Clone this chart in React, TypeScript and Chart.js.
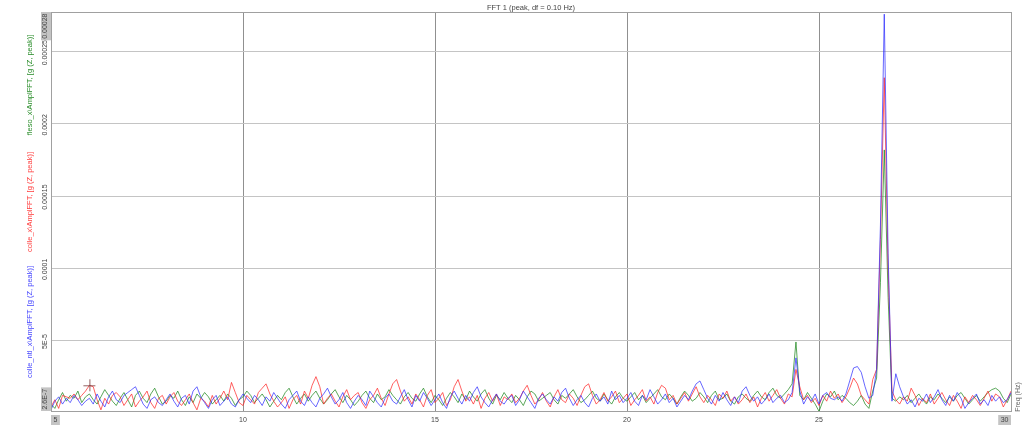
import React, { useEffect, useRef } from 'react';
import { Chart, registerables } from 'chart.js';
Chart.register(...registerables);

// Frequency grid: 5.0 .. 30.0 Hz, df = 0.10 Hz
const FREQ_START = 5;
const FREQ_STEP = 0.1;

// Amplitudes in micro-g (1e-6 g), one value per 0.1 Hz bin
const colleUg: number[] = [
  4, 9, 3, 12, 11, 10, 13, 9, 12, 15,
  19, 18, 9, 2, 10, 6, 12, 14, 11, 5,
  9, 13, 4, 8, 11, 15, 7, 3, 10, 12,
  6, 11, 14, 8, 5, 9, 13, 7, 2, 10,
  8, 4, 12, 6, 10, 15, 9, 21, 14, 7,
  5, 12, 9, 6, 14, 17, 20, 13, 8, 4,
  7, 11, 3, 9, 12, 6, 15, 10, 19, 25,
  18, 6, 10, 13, 8, 4, 11, 16, 9, 12,
  14, 7, 3, 9, 12, 17, 10, 5, 13, 20,
  23, 15, 8, 11, 6, 13, 9, 4, 12, 16,
  7, 10, 14, 5, 9, 18, 23, 15, 8, 11,
  6, 12, 3, 10, 14, 8, 13, 5, 11, 9,
  13, 7, 10, 15, 19, 12, 6, 9, 14, 8,
  4, 11, 16, 9, 7, 13, 10, 5, 12, 18,
  20, 12, 6, 9, 14, 8, 11, 15, 7, 10,
  13, 5, 9, 12, 16, 8, 11, 6, 14, 19,
  17, 9, 12, 6, 10, 14, 8, 13, 18, 11,
  7, 12, 9, 5, 13, 10, 15, 8, 11, 6,
  9, 13, 7, 11, 4, 10, 14, 8, 12, 16,
  10, 6, 13, 11, 30, 18, 9, 12, 7, 10,
  5, 12, 8, 15, 10, 13, 7, 11, 17, 24,
  20, 12, 9, 6, 23, 30, 120, 232, 100, 15,
  9, 6, 11, 8, 17, 12, 5, 10, 7, 13,
  6, 10, 14, 9, 5, 12, 8, 3, 11, 7,
  12, 9, 5, 10, 15, 8, 13, 11, 4, 9,
  15,
];

const colleNtlUg: number[] = [
  2, 8, 11, 6, 10, 7, 12, 9, 5, 8,
  10, 6, 13, 8, 4, 11, 15, 9, 7, 12,
  14, 16, 18, 12, 6, 3, 9, 11, 7, 5,
  9, 13, 8, 4, 10, 12, 6, 15, 18, 11,
  7, 3, 9, 12, 5, 8, 11, 6, 4, 9,
  13, 10, 7, 12, 9, 5, 11, 8, 14, 10,
  6, 3, 9, 12, 15, 8, 5, 11, 7, 4,
  10, 13, 17, 11, 6, 9, 14, 7, 3, 8,
  12, 9, 5, 15, 11, 7, 4, 10, 13, 8,
  6, 11, 16, 9, 4, 12, 8, 14, 10, 5,
  9, 13, 7, 3, 11, 15, 10, 6, 12, 8,
  14, 18, 11, 7, 4, 9, 13, 8, 6, 10,
  12, 5, 9, 15, 11, 7, 3, 10, 13, 9,
  6, 11, 8, 14, 17, 10, 5, 9, 12, 7,
  4, 10, 13, 8, 11, 6, 15, 9, 12, 7,
  10, 14, 8, 5, 12, 9, 16, 11, 6, 9,
  13, 7, 10, 4, 8, 12, 9, 15, 20, 22,
  16, 10, 6, 12, 8, 14, 9, 5, 11, 7,
  15, 18, 12, 8, 11, 6, 9, 13, 7, 10,
  12, 7, 9, 14, 38, 15, 6, 11, 8, 13,
  6, 12, 14, 10, 9, 11, 8, 13, 22, 31,
  32, 28, 18, 10, 12, 30, 130, 276, 110, 8,
  27, 18, 11, 6, 9, 4, 10, 8, 13, 7,
  11, 16, 9, 5, 12, 8, 14, 10, 3, 7,
  10, 13, 6, 9, 5, 12, 8, 11, 7, 9,
  14,
];

const flesoUg: number[] = [
  6, 3, 9, 14, 8, 12, 10, 15, 7, 11,
  13, 9, 6, 11, 16, 12, 8, 5, 10, 14,
  9, 4, 12, 15, 10, 7, 13, 17, 11, 6,
  8, 12, 10, 15, 9, 5, 11, 7, 13, 10,
  14, 11, 6, 9, 12, 8, 13, 10, 5, 9,
  11, 15, 12, 7, 10, 13, 9, 4, 8, 12,
  9, 14, 17, 11, 6, 10, 13, 8, 12, 15,
  10, 6, 9, 13, 16, 11, 7, 12, 9, 5,
  8, 12, 15, 10, 7, 13, 9, 11, 16, 12,
  9, 6, 11, 14, 10, 8, 13, 17, 11, 7,
  12, 9, 5, 10, 14, 11, 7, 13, 9, 15,
  11, 8, 13, 16, 10, 6, 12, 9, 14, 10,
  7, 12, 9, 5, 11, 15, 13, 8, 10, 12,
  14, 9, 6, 12, 10, 13, 16, 11, 7, 9,
  12, 15, 10, 8, 13, 9, 6, 11, 14, 10,
  8, 11, 14, 9, 12, 7, 10, 13, 16, 11,
  9, 13, 10, 6, 11, 15, 12, 8, 10, 14,
  11, 7, 12, 15, 9, 10, 13, 8, 6, 11,
  13, 10, 8, 12, 15, 11, 9, 14, 17, 12,
  10, 13, 16, 20, 49, 12, 9, 14, 10, 6,
  1, 8, 13, 11, 15, 9, 12, 10, 7, 5,
  8, 12, 6, 3, 15, 24, 90, 182, 80, 10,
  8, 11, 9, 12, 7, 10, 13, 9, 6, 11,
  9, 13, 10, 7, 11, 8, 12, 14, 10, 6,
  9, 12, 8, 11, 14, 16, 17, 15, 10, 7,
  13,
];

const X_TICKS = [5, 10, 15, 20, 25, 30];
const X_TICK_LABELS = ['5', '10', '15', '20', '25', '30'];
const Y_MIN = 1.2e-6;
const Y_MAX = 0.0002775;
const Y_TICKS = [5e-5, 1e-4, 1.5e-4, 2e-4, 2.5e-4];
const Y_TICK_LABELS = ['5E-5', '0.0001', '0.00015', '0.0002', '0.00025'];
const Y_MIN_LABEL = '2.6E-7';
const Y_MAX_LABEL = '0.00028';
const TITLE = 'FFT 1 (peak, df = 0.10 Hz)';
const X_TITLE = 'Freq (Hz)';
const Y_TITLES = [
  { text: 'fleso_x\\AmplFFT, [g (Z, peak)]', color: 'rgb(40,140,40)' },
  { text: 'colle_x\\AmplFFT, [g (Z, peak)]', color: 'rgb(255,60,60)' },
  { text: 'colle_ntl_x\\AmplFFT, [g (Z, peak)]', color: 'rgb(70,70,255)' },
];
const CURSOR_FREQ = 6.0;
const CURSOR_INDEX = 10;

const FONT = '"Liberation Sans", Arial, sans-serif';

const toPoints = (arr: number[]) =>
  arr.map((v, i) => ({ x: FREQ_START + i * FREQ_STEP, y: v * 1e-6 }));

const overlayPlugin = {
  id: 'overlay',
  afterDraw(chart: any) {
    const { ctx, chartArea: a, scales } = chart;
    const xs = scales.x;
    const ys = scales.y;
    ctx.save();
    // plot frame
    ctx.strokeStyle = '#a0a0a0';
    ctx.lineWidth = 1;
    ctx.strokeRect(Math.round(a.left) + 0.5, Math.round(a.top) + 0.5, Math.round(a.right - a.left), Math.round(a.bottom - a.top));

    ctx.font = `7.5px ${FONT}`;
    ctx.fillStyle = '#444';
    // title
    ctx.textAlign = 'center';
    ctx.textBaseline = 'middle';
    ctx.fillText(TITLE, (a.left + a.right) / 2, a.top - 4);

    ctx.font = `7px ${FONT}`;
    // x tick labels
    X_TICKS.forEach((v, i) => {
      const px = xs.getPixelForValue(v);
      const label = X_TICK_LABELS[i];
      const w = ctx.measureText(label).width;
      const ty = a.bottom + 9;
      if (i === 0) {
        ctx.fillStyle = '#c4c4c4';
        ctx.fillRect(a.left, a.bottom + 4, w + 5, 10);
        ctx.fillStyle = '#444';
        ctx.textAlign = 'left';
        ctx.fillText(label, a.left + 2.5, ty);
      } else if (i === X_TICKS.length - 1) {
        ctx.fillStyle = '#c4c4c4';
        ctx.fillRect(a.right - w - 5, a.bottom + 4, w + 5, 10);
        ctx.fillStyle = '#444';
        ctx.textAlign = 'right';
        ctx.fillText(label, a.right - 2.5, ty);
      } else {
        ctx.fillStyle = '#444';
        ctx.textAlign = 'center';
        ctx.fillText(label, px, ty);
      }
    });

    // y tick labels (rotated)
    const lx = a.left - 5.5;
    const drawRot = (text: string, x: number, y: number, align: CanvasTextAlign, color: string) => {
      ctx.save();
      ctx.translate(x, y);
      ctx.rotate(-Math.PI / 2);
      ctx.textAlign = align;
      ctx.textBaseline = 'middle';
      ctx.fillStyle = color;
      ctx.fillText(text, 0, 0);
      ctx.restore();
    };
    Y_TICKS.forEach((v, i) => {
      const py = ys.getPixelForValue(v);
      drawRot(Y_TICK_LABELS[i], lx, py + 1, 'center', '#444');
    });
    // min / max boxed labels
    const wMin = ctx.measureText(Y_MIN_LABEL).width;
    ctx.fillStyle = '#c4c4c4';
    ctx.fillRect(a.left - 10, a.bottom - wMin - 3, 10, wMin + 3);
    drawRot(Y_MIN_LABEL, lx, a.bottom - 1.5, 'left', '#444');
    const wMax = ctx.measureText(Y_MAX_LABEL).width;
    ctx.fillStyle = '#c4c4c4';
    ctx.fillRect(a.left - 10, a.top, 10, wMax + 3);
    drawRot(Y_MAX_LABEL, lx, a.top + 1.5, 'right', '#444');

    // x axis title (rotated, right side)
    drawRot(X_TITLE, a.right + 7, a.bottom - 14, 'center', '#666');

    // y axis titles (rotated, coloured)
    ctx.font = `7.5px ${FONT}`;
    const centers = [85, 202, 322];
    Y_TITLES.forEach((t, i) => {
      drawRot(t.text, 30, centers[i], 'center', t.color);
    });

    // cursor cross
    const cx = xs.getPixelForValue(CURSOR_FREQ);
    const cy = ys.getPixelForValue(colleUg[CURSOR_INDEX] * 1e-6);
    ctx.strokeStyle = 'rgba(120,60,60,0.8)';
    ctx.lineWidth = 1;
    ctx.beginPath();
    ctx.moveTo(cx - 6, cy + 0.5);
    ctx.lineTo(cx + 6, cy + 0.5);
    ctx.moveTo(cx + 0.5, cy - 6);
    ctx.lineTo(cx + 0.5, cy + 6);
    ctx.stroke();
    ctx.restore();
  },
};

export default function App() {
  const ref = useRef<HTMLCanvasElement | null>(null);
  useEffect(() => {
    if (!ref.current) return;
    const chart = new Chart(ref.current, {
      type: 'line',
      data: {
        datasets: [
          {
            label: 'colle_ntl_x\\AmplFFT',
            data: toPoints(colleNtlUg),
            borderColor: 'rgba(40,40,255,0.7)',
            borderWidth: 1,
            pointRadius: 0,
            tension: 0,
          },
          {
            label: 'colle_x\\AmplFFT',
            data: toPoints(colleUg),
            borderColor: 'rgba(255,30,30,0.7)',
            borderWidth: 1,
            pointRadius: 0,
            tension: 0,
          },
          {
            label: 'fleso_x\\AmplFFT',
            data: toPoints(flesoUg),
            borderColor: 'rgba(20,130,20,0.7)',
            borderWidth: 1,
            pointRadius: 0,
            tension: 0,
          },
        ],
      },
      options: {
        animation: false,
        responsive: false,
        devicePixelRatio: 1,
        layout: { padding: { left: 51, right: 13, top: 12, bottom: 17 } },
        plugins: { legend: { display: false }, tooltip: { enabled: false }, title: { display: false } },
        scales: {
          x: {
            type: 'linear',
            min: 5,
            max: 30,
            afterBuildTicks: (s: any) => {
              s.ticks = X_TICKS.map((v) => ({ value: v }));
            },
            ticks: { display: false },
            grid: {
              drawTicks: false,
              color: (c: any) => (c.tick && (c.tick.value === 5 || c.tick.value === 30) ? 'rgba(0,0,0,0)' : '#909090'),
              lineWidth: 1,
            },
            border: { display: false },
          },
          y: {
            type: 'linear',
            min: Y_MIN,
            max: Y_MAX,
            afterBuildTicks: (s: any) => {
              s.ticks = Y_TICKS.map((v) => ({ value: v }));
            },
            ticks: { display: false },
            grid: { drawTicks: false, color: '#c4c4c4', lineWidth: 1 },
            border: { display: false },
          },
        },
      },
      plugins: [overlayPlugin],
    });
    return () => chart.destroy();
  }, []);
  return (
    <div style={{ position: 'absolute', left: 0, top: 0, width: 1024, height: 428, background: '#fff' }}>
      <canvas ref={ref} width={1024} height={428} />
    </div>
  );
}
